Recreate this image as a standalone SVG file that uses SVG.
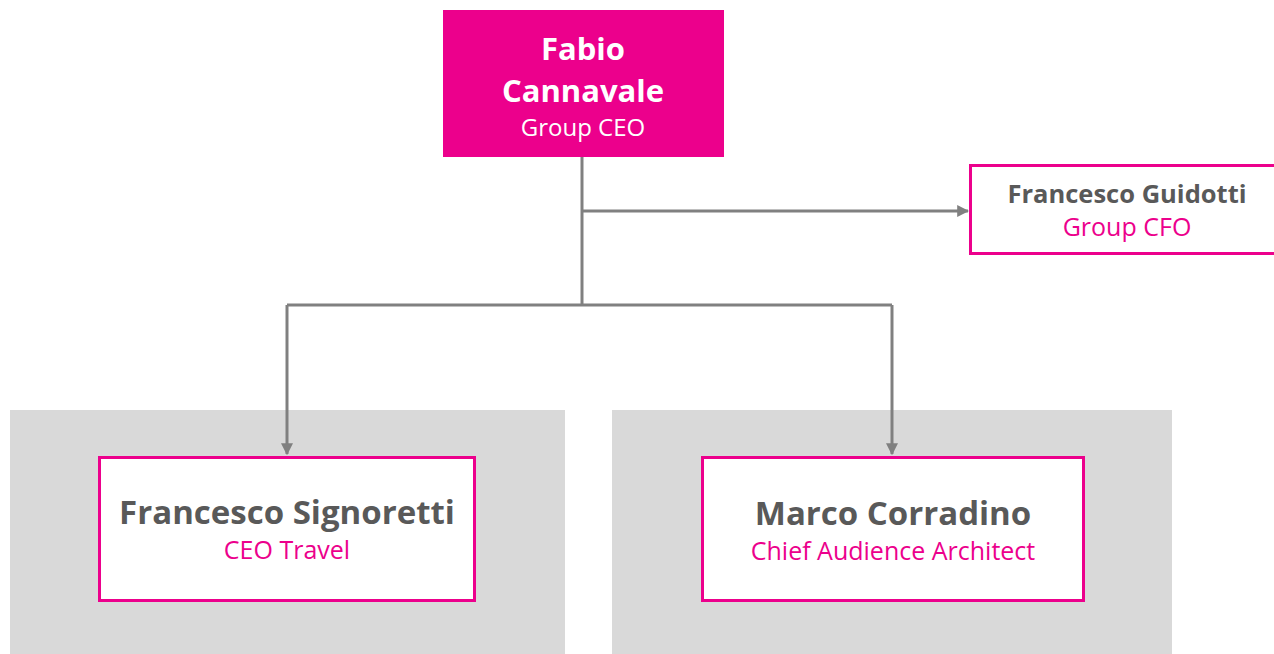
<svg xmlns="http://www.w3.org/2000/svg" width="1274" height="654" viewBox="0 0 1274 654">
  <style>
    .panel { fill: #D9D9D9; }
    .box { fill: #FFFFFF; stroke: #EC008C; stroke-width: 3; }
    .lead { fill: #EC008C; }
    .link { fill: none; stroke: #808080; stroke-width: 3; }
    text { font-family: "Open Sans", "Noto Sans", sans-serif; text-anchor: middle; }
    .name { font-weight: bold; fill: #595959; }
    .role { fill: #EC008C; }
    .white { fill: #FFFFFF; }
  </style>
  <defs>
    <marker id="arrow" viewBox="0 0 10 10" refX="9" refY="5" markerWidth="4" markerHeight="4" orient="auto" markerUnits="strokeWidth">
      <path d="M0,0 L10,5 L0,10 Z" fill="#808080"/>
    </marker>
  </defs>

  <!-- division panels -->
  <rect class="panel" x="10" y="410" width="555" height="244"/>
  <rect class="panel" x="612" y="410" width="560" height="244"/>

  <!-- reporting lines -->
  <g id="connectors">
    <path class="link" d="M582,157 V305"/>
    <path class="link" d="M582,211 H968" marker-end="url(#arrow)"/>
    <path class="link" d="M287,305 H892"/>
    <path class="link" d="M287,305 V454" marker-end="url(#arrow)"/>
    <path class="link" d="M892,305 V454" marker-end="url(#arrow)"/>
  </g>

  <g id="ceo">
    <rect class="lead" x="443" y="10" width="281" height="147"/>
    <text class="white" x="583" y="60" font-size="31" font-weight="bold">Fabio</text>
    <text class="white" x="583" y="102" font-size="31" font-weight="bold">Cannavale</text>
    <text class="white" x="583" y="136" font-size="24">Group CEO</text>
  </g>

  <g id="cfo">
    <rect class="box" x="970.5" y="165.5" width="310" height="88"/>
    <text class="name" x="1127" y="203" font-size="25.5">Francesco Guidotti</text>
    <text class="role" x="1127" y="236" font-size="25">Group CFO</text>
  </g>

  <g id="signoretti">
    <rect class="box" x="99.5" y="457.5" width="375" height="143"/>
    <text class="name" x="287" y="524" font-size="33">Francesco Signoretti</text>
    <text class="role" x="287" y="559" font-size="25">CEO Travel</text>
  </g>

  <g id="corradino">
    <rect class="box" x="702.5" y="457.5" width="381" height="143"/>
    <text class="name" x="893" y="525" font-size="33">Marco Corradino</text>
    <text class="role" x="893" y="560" font-size="25">Chief Audience Architect</text>
  </g>
</svg>
